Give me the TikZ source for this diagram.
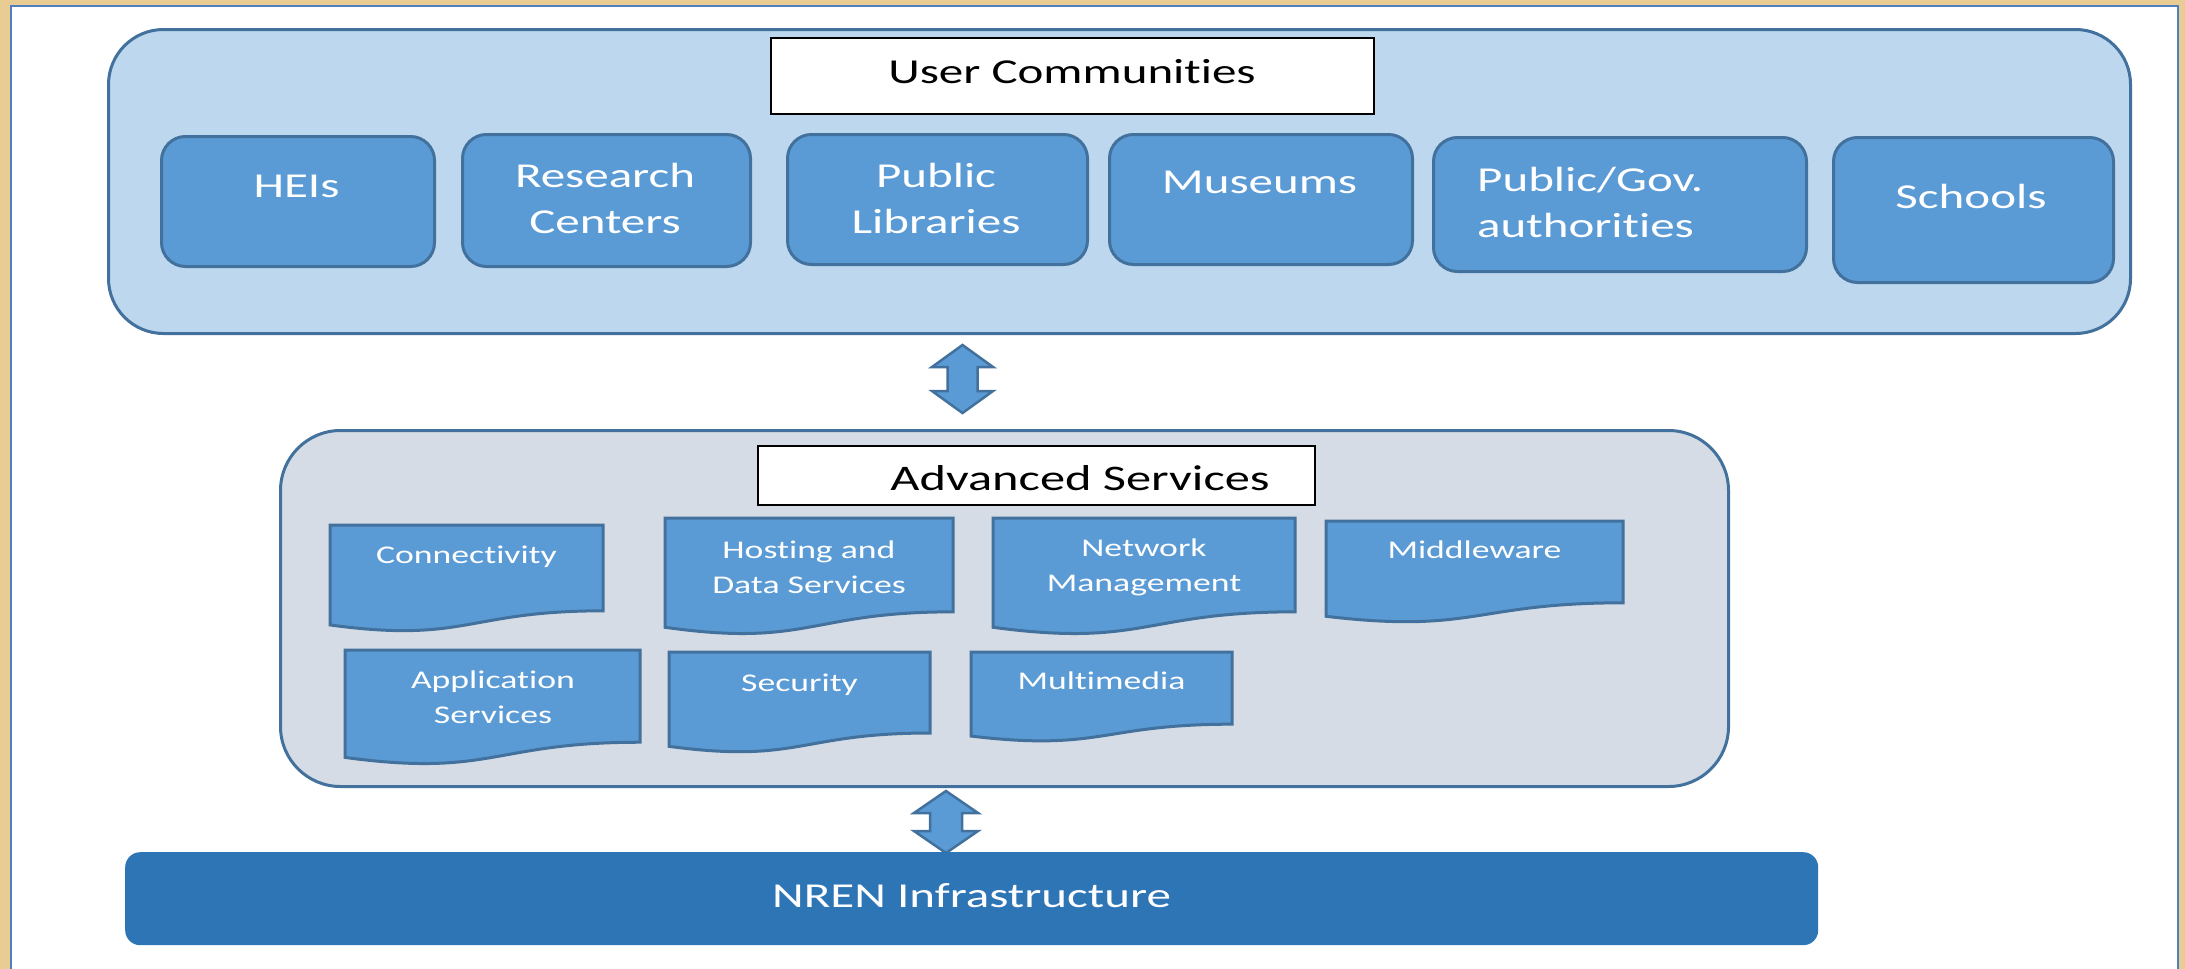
\documentclass[tikz,border=0pt]{standalone}
\usepackage{fontspec}
\setmainfont[FakeStretch=1.4, Ligatures={NoCommon,NoContextual}]{Carlito}
\usetikzlibrary{calc}
\definecolor{beige}{HTML}{E8CC93}
\definecolor{framebl}{HTML}{4F7FBF}
\definecolor{lightbl}{HTML}{BDD7EE}
\definecolor{midbl}{HTML}{5B9BD5}
\definecolor{edgebl}{HTML}{41719C}
\definecolor{greybl}{HTML}{D6DCE5}
\definecolor{darkbl}{HTML}{2E75B6}
\newcommand\boxnode[6]{\node[#1, anchor=north west, minimum width={#4-#2}, minimum height={#5-#3}] (#6) at (#2,#3) {};}
\newcommand\docshape[5]{\draw[docst] (#2,#3) -- (#4,#3) -- (#4,{#3+0.802*#5}) .. controls ({(#2+#4)/2},{#3+0.802*#5}) and ({(#2+#4)/2},{#3+1.1075*#5}) .. (#2,{#3+0.934*#5}) -- cycle;
\coordinate (#1) at ({(#2+#4)/2},#3);}
\newcommand\dblarrow[7]{\draw[arrowst] (#2,#3) -- ({#2+#5},{#3+#7}) -- ({#2+#6},{#3+#7}) -- ({#2+#6},{#4-#7}) -- ({#2+#5},{#4-#7}) -- (#2,#4) -- ({#2-#5},{#4-#7}) -- ({#2-#6},{#4-#7}) -- ({#2-#6},{#3+#7}) -- ({#2-#5},{#3+#7}) -- cycle;
\coordinate (#1) at (#2,{(#3+#4)/2});}
\begin{document}
\begin{tikzpicture}[x=1pt,y=-1pt,
  container/.style={draw=edgebl, line width=3pt, rounded corners=55pt, inner sep=0pt},
  userbox/.style={draw=edgebl, fill=midbl, line width=3pt, rounded corners=24pt, inner sep=0pt},
  titlebox/.style={draw=black, fill=white, line width=2pt, inner sep=0pt},
  docst/.style={draw=edgebl, fill=midbl, line width=3pt, line join=miter},
  arrowst/.style={draw=edgebl, fill=midbl, line width=2.5pt, line join=miter},
  bigtxt/.style={font=\fontsize{35}{46}\selectfont, inner sep=0pt, align=center},
  smalltxt/.style={font=\fontsize{25.5}{35}\selectfont, inner sep=0pt, align=center, text=white},
]
\useasboundingbox (0,0) rectangle (2185,969);
% frame
\fill[beige] (0,0) rectangle (2185,969);
\fill[white] (10,5) rectangle (2179,969);
\draw[framebl, line width=2pt] (11,969) -- (11,6) -- (2178,6) -- (2178,969);

% user communities
\boxnode{container, fill=lightbl}{107}{28}{2129}{332}{uc}
\boxnode{titlebox}{770}{37}{1373}{113}{uctitle}
\node[bigtxt, anchor=base] (uctext) at (1072,83) {User Communities};

\boxnode{userbox}{160}{135}{433}{265}{hei}
\boxnode{userbox}{461}{133}{749}{265}{res}
\boxnode{userbox}{786}{133}{1086}{263}{lib}
\boxnode{userbox}{1108}{133}{1411}{263}{mus}
\boxnode{userbox}{1432}{136}{1805}{270}{gov}
\boxnode{userbox}{1832}{136}{2112}{281}{sch}
\node[bigtxt, text=white, anchor=base] (heit) at (296.5,197) {HEIs};
\node[bigtxt, text=white, anchor=base] (rest) at (605,233) {Research\\Centers};
\node[bigtxt, text=white, anchor=base] (libt) at (936,233) {Public\\Libraries};
\node[bigtxt, text=white, anchor=base] (must) at (1259.5,193) {Museums};
\node[bigtxt, text=white, anchor=base west, align=left] (govt) at (1477,237) {Public/Gov.\\authorities};
\node[bigtxt, text=white, anchor=base] (scht) at (1971,208) {Schools};

% arrow 1
\dblarrow{a1}{962.5}{345}{413}{30.5}{15}{22}

% advanced services
\boxnode{container, fill=greybl, rounded corners=60pt}{279}{429}{1727}{785}{adv}
\boxnode{titlebox}{757}{445}{1314}{504}{advtitle}
\node[bigtxt, anchor=base, font=\fontsize{36}{46}\selectfont] (advtext) at (1080,490) {Advanced Services};

\docshape{conn}{330}{525}{603}{107}
\docshape{host}{665}{518}{953}{117}
\docshape{netm}{993}{518}{1295}{117}
\docshape{midw}{1326}{521}{1623}{102}
\docshape{appl}{345}{650}{640}{115}
\docshape{secu}{669}{652}{930}{101}
\docshape{mult}{971}{652}{1232}{90}
\node[smalltxt, anchor=base] (connt) at (466.5,563) {Connectivity};
\node[smalltxt, anchor=base] (hostt) at (809,593) {Hosting and\\Data Services};
\node[smalltxt, anchor=base] (netmt) at (1144,591) {Network\\Management};
\node[smalltxt, anchor=base] (midwt) at (1474.5,558) {Middleware};
\node[smalltxt, anchor=base] (applt) at (493,723) {Application\\Services};
\node[smalltxt, anchor=base] (secut) at (799.5,691) {Security};
\node[smalltxt, anchor=base] (multt) at (1101.5,689) {Multimedia};

% arrow 2
\dblarrow{a2}{946}{791}{853}{32}{16}{22}

% NREN
\boxnode{fill=darkbl, rounded corners=15pt, inner sep=0pt}{125}{852}{1818}{945}{nren}
\node[bigtxt, text=white, anchor=base] (nrent) at (971.5,907) {NREN Infrastructure};
\end{tikzpicture}
\end{document}
